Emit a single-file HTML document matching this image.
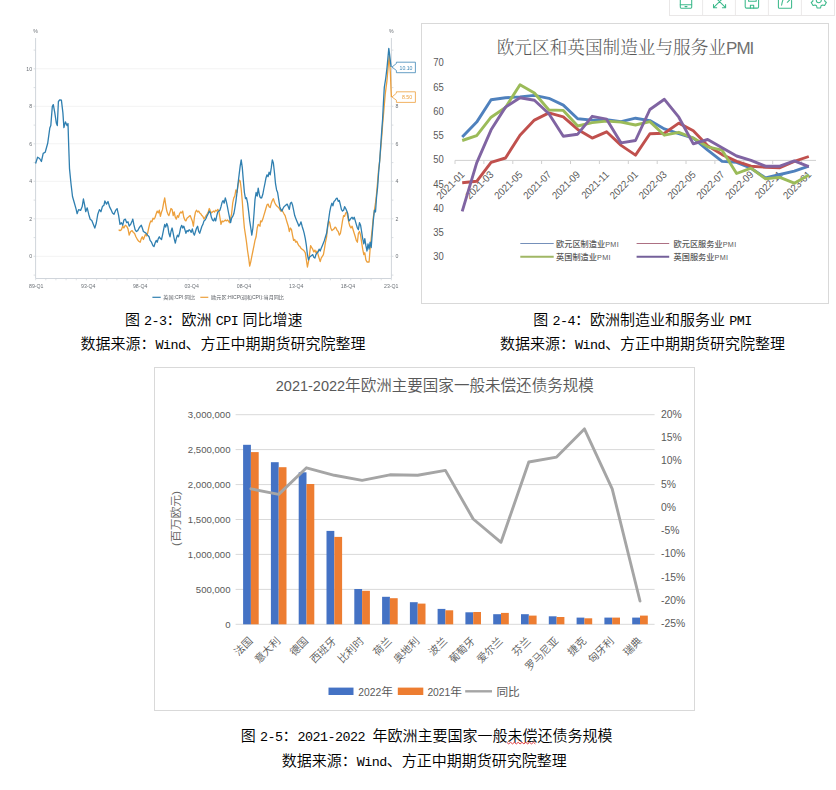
<!DOCTYPE html>
<html lang="zh-CN"><head><meta charset="utf-8"><title>欧洲经济图表</title>
<style>
html,body{margin:0;padding:0;background:#fff}
body{width:836px;height:790px;position:relative;overflow:hidden;font-family:"Liberation Sans","Noto Sans CJK SC",sans-serif}
.box{position:absolute;border:1px solid #d9d9d9;background:#fff;box-sizing:content-box}
.t1{font:5.2px "Liberation Sans","Noto Sans CJK SC",sans-serif;fill:#6b7076}
.t1l{font-size:5.1px;fill:#5c6066}
.t2{font:10.3px "Liberation Sans","Noto Sans CJK SC",sans-serif;fill:#595959}
.t2l{font:8.2px "Liberation Sans","Noto Sans CJK SC",sans-serif;fill:#595959;font-weight:500}
.pm{font-size:7.2px;font-weight:400;letter-spacing:0.4px}
.title2{position:absolute;text-align:center;font:300 17.65px/28px "Liberation Serif","Noto Serif CJK SC",serif;color:#595959;white-space:nowrap}
.title2 .lat{font-family:"Liberation Sans",sans-serif;font-size:17px;letter-spacing:-1px;color:#707070;position:relative;top:-0.4px}
.t3{font:9.6px "Liberation Sans","Noto Sans CJK SC",sans-serif;fill:#595959}
.t3r{font:10.8px "Liberation Sans","Noto Sans CJK SC",sans-serif;fill:#595959}
.t3x{font:350 10.5px "Liberation Sans","Noto Sans CJK SC",sans-serif;fill:#595959}
.dg{font-size:10.3px}
.t3a{font:350 11.8px "Liberation Sans","Noto Sans CJK SC",sans-serif;fill:#666}
.t3l{font:11.7px "Liberation Sans","Noto Sans CJK SC",sans-serif;fill:#595959}
.title3{position:absolute;text-align:center;font:350 15.55px/22px "Liberation Sans","Noto Sans CJK SC",sans-serif;color:#595959;white-space:nowrap}
.cap{position:absolute;text-align:center;font:350 15px/20px "Liberation Mono","Noto Sans CJK SC","WenQuanYi Zen Hei",monospace;color:#000;white-space:nowrap}
.cap .m{font-family:"Liberation Mono",monospace;font-size:13.4px;letter-spacing:-0.54px}
.cap .s{display:inline-block;width:4.2px}
.tb{position:absolute;left:668.7px;top:-2.5px;width:164.6px;height:16.6px;border:1px solid #e9e7e7;background:#fff}
.sq{text-decoration:underline wavy #e03030;text-decoration-thickness:0.8px;text-underline-offset:2px}
</style></head><body>
<svg class="c1" width="420" height="310" viewBox="0 0 420 310" style="position:absolute;left:0;top:0;filter:blur(0.35px)">
<line x1="35.6" x2="391.4" y1="256.3" y2="256.3" stroke="#f3f3f3" stroke-width="1"/>
<line x1="35.6" x2="391.4" y1="218.8" y2="218.8" stroke="#f3f3f3" stroke-width="1"/>
<line x1="35.6" x2="391.4" y1="181.3" y2="181.3" stroke="#f3f3f3" stroke-width="1"/>
<line x1="35.6" x2="391.4" y1="143.8" y2="143.8" stroke="#f3f3f3" stroke-width="1"/>
<line x1="35.6" x2="391.4" y1="106.3" y2="106.3" stroke="#f3f3f3" stroke-width="1"/>
<line x1="35.6" x2="391.4" y1="68.8" y2="68.8" stroke="#f3f3f3" stroke-width="1"/>
<line x1="35.6" x2="35.6" y1="38" y2="278.5" stroke="#d0d5db" stroke-width="1"/>
<line x1="391.4" x2="391.4" y1="38" y2="278.5" stroke="#d0d5db" stroke-width="1"/>
<line x1="35.6" x2="391.4" y1="278.5" y2="278.5" stroke="#d0d5db" stroke-width="1"/>
<line x1="33.6" x2="35.6" y1="275.1" y2="275.1" stroke="#d0d5db" stroke-width="0.8"/>
<line x1="391.4" x2="393.4" y1="275.1" y2="275.1" stroke="#d0d5db" stroke-width="0.8"/>
<line x1="33.6" x2="35.6" y1="256.3" y2="256.3" stroke="#d0d5db" stroke-width="0.8"/>
<line x1="391.4" x2="393.4" y1="256.3" y2="256.3" stroke="#d0d5db" stroke-width="0.8"/>
<line x1="33.6" x2="35.6" y1="237.6" y2="237.6" stroke="#d0d5db" stroke-width="0.8"/>
<line x1="391.4" x2="393.4" y1="237.6" y2="237.6" stroke="#d0d5db" stroke-width="0.8"/>
<line x1="33.6" x2="35.6" y1="218.8" y2="218.8" stroke="#d0d5db" stroke-width="0.8"/>
<line x1="391.4" x2="393.4" y1="218.8" y2="218.8" stroke="#d0d5db" stroke-width="0.8"/>
<line x1="33.6" x2="35.6" y1="200.1" y2="200.1" stroke="#d0d5db" stroke-width="0.8"/>
<line x1="391.4" x2="393.4" y1="200.1" y2="200.1" stroke="#d0d5db" stroke-width="0.8"/>
<line x1="33.6" x2="35.6" y1="181.3" y2="181.3" stroke="#d0d5db" stroke-width="0.8"/>
<line x1="391.4" x2="393.4" y1="181.3" y2="181.3" stroke="#d0d5db" stroke-width="0.8"/>
<line x1="33.6" x2="35.6" y1="162.6" y2="162.6" stroke="#d0d5db" stroke-width="0.8"/>
<line x1="391.4" x2="393.4" y1="162.6" y2="162.6" stroke="#d0d5db" stroke-width="0.8"/>
<line x1="33.6" x2="35.6" y1="143.8" y2="143.8" stroke="#d0d5db" stroke-width="0.8"/>
<line x1="391.4" x2="393.4" y1="143.8" y2="143.8" stroke="#d0d5db" stroke-width="0.8"/>
<line x1="33.6" x2="35.6" y1="125.1" y2="125.1" stroke="#d0d5db" stroke-width="0.8"/>
<line x1="391.4" x2="393.4" y1="125.1" y2="125.1" stroke="#d0d5db" stroke-width="0.8"/>
<line x1="33.6" x2="35.6" y1="106.3" y2="106.3" stroke="#d0d5db" stroke-width="0.8"/>
<line x1="391.4" x2="393.4" y1="106.3" y2="106.3" stroke="#d0d5db" stroke-width="0.8"/>
<line x1="33.6" x2="35.6" y1="87.6" y2="87.6" stroke="#d0d5db" stroke-width="0.8"/>
<line x1="391.4" x2="393.4" y1="87.6" y2="87.6" stroke="#d0d5db" stroke-width="0.8"/>
<line x1="33.6" x2="35.6" y1="68.8" y2="68.8" stroke="#d0d5db" stroke-width="0.8"/>
<line x1="391.4" x2="393.4" y1="68.8" y2="68.8" stroke="#d0d5db" stroke-width="0.8"/>
<line x1="33.6" x2="35.6" y1="50.1" y2="50.1" stroke="#d0d5db" stroke-width="0.8"/>
<line x1="391.4" x2="393.4" y1="50.1" y2="50.1" stroke="#d0d5db" stroke-width="0.8"/>
<line x1="35.6" x2="35.6" y1="278.5" y2="280.3" stroke="#d0d5db" stroke-width="0.7"/>
<line x1="45.8" x2="45.8" y1="278.5" y2="280.3" stroke="#d0d5db" stroke-width="0.7"/>
<line x1="55.9" x2="55.9" y1="278.5" y2="280.3" stroke="#d0d5db" stroke-width="0.7"/>
<line x1="66.1" x2="66.1" y1="278.5" y2="280.3" stroke="#d0d5db" stroke-width="0.7"/>
<line x1="76.3" x2="76.3" y1="278.5" y2="280.3" stroke="#d0d5db" stroke-width="0.7"/>
<line x1="86.4" x2="86.4" y1="278.5" y2="280.3" stroke="#d0d5db" stroke-width="0.7"/>
<line x1="96.6" x2="96.6" y1="278.5" y2="280.3" stroke="#d0d5db" stroke-width="0.7"/>
<line x1="106.8" x2="106.8" y1="278.5" y2="280.3" stroke="#d0d5db" stroke-width="0.7"/>
<line x1="116.9" x2="116.9" y1="278.5" y2="280.3" stroke="#d0d5db" stroke-width="0.7"/>
<line x1="127.1" x2="127.1" y1="278.5" y2="280.3" stroke="#d0d5db" stroke-width="0.7"/>
<line x1="137.3" x2="137.3" y1="278.5" y2="280.3" stroke="#d0d5db" stroke-width="0.7"/>
<line x1="147.4" x2="147.4" y1="278.5" y2="280.3" stroke="#d0d5db" stroke-width="0.7"/>
<line x1="157.6" x2="157.6" y1="278.5" y2="280.3" stroke="#d0d5db" stroke-width="0.7"/>
<line x1="167.8" x2="167.8" y1="278.5" y2="280.3" stroke="#d0d5db" stroke-width="0.7"/>
<line x1="177.9" x2="177.9" y1="278.5" y2="280.3" stroke="#d0d5db" stroke-width="0.7"/>
<line x1="188.1" x2="188.1" y1="278.5" y2="280.3" stroke="#d0d5db" stroke-width="0.7"/>
<line x1="198.3" x2="198.3" y1="278.5" y2="280.3" stroke="#d0d5db" stroke-width="0.7"/>
<line x1="208.4" x2="208.4" y1="278.5" y2="280.3" stroke="#d0d5db" stroke-width="0.7"/>
<line x1="218.6" x2="218.6" y1="278.5" y2="280.3" stroke="#d0d5db" stroke-width="0.7"/>
<line x1="228.7" x2="228.7" y1="278.5" y2="280.3" stroke="#d0d5db" stroke-width="0.7"/>
<line x1="238.9" x2="238.9" y1="278.5" y2="280.3" stroke="#d0d5db" stroke-width="0.7"/>
<line x1="249.1" x2="249.1" y1="278.5" y2="280.3" stroke="#d0d5db" stroke-width="0.7"/>
<line x1="259.2" x2="259.2" y1="278.5" y2="280.3" stroke="#d0d5db" stroke-width="0.7"/>
<line x1="269.4" x2="269.4" y1="278.5" y2="280.3" stroke="#d0d5db" stroke-width="0.7"/>
<line x1="279.6" x2="279.6" y1="278.5" y2="280.3" stroke="#d0d5db" stroke-width="0.7"/>
<line x1="289.7" x2="289.7" y1="278.5" y2="280.3" stroke="#d0d5db" stroke-width="0.7"/>
<line x1="299.9" x2="299.9" y1="278.5" y2="280.3" stroke="#d0d5db" stroke-width="0.7"/>
<line x1="310.1" x2="310.1" y1="278.5" y2="280.3" stroke="#d0d5db" stroke-width="0.7"/>
<line x1="320.2" x2="320.2" y1="278.5" y2="280.3" stroke="#d0d5db" stroke-width="0.7"/>
<line x1="330.4" x2="330.4" y1="278.5" y2="280.3" stroke="#d0d5db" stroke-width="0.7"/>
<line x1="340.6" x2="340.6" y1="278.5" y2="280.3" stroke="#d0d5db" stroke-width="0.7"/>
<line x1="350.7" x2="350.7" y1="278.5" y2="280.3" stroke="#d0d5db" stroke-width="0.7"/>
<line x1="360.9" x2="360.9" y1="278.5" y2="280.3" stroke="#d0d5db" stroke-width="0.7"/>
<line x1="371.1" x2="371.1" y1="278.5" y2="280.3" stroke="#d0d5db" stroke-width="0.7"/>
<line x1="381.2" x2="381.2" y1="278.5" y2="280.3" stroke="#d0d5db" stroke-width="0.7"/>
<line x1="391.4" x2="391.4" y1="278.5" y2="280.3" stroke="#d0d5db" stroke-width="0.7"/>
<text x="36.3" y="288" text-anchor="middle" class="t1">89-Q1</text>
<text x="88.3" y="288" text-anchor="middle" class="t1">93-Q4</text>
<text x="140.2" y="288" text-anchor="middle" class="t1">98-Q4</text>
<text x="191.6" y="288" text-anchor="middle" class="t1">03-Q4</text>
<text x="244.0" y="288" text-anchor="middle" class="t1">08-Q4</text>
<text x="296.3" y="288" text-anchor="middle" class="t1">13-Q4</text>
<text x="348" y="288" text-anchor="middle" class="t1">18-Q4</text>
<text x="391.3" y="288" text-anchor="middle" class="t1">23-Q1</text>
<text x="32.1" y="258.1" text-anchor="end" class="t1">0</text>
<text x="32.1" y="220.6" text-anchor="end" class="t1">2</text>
<text x="32.1" y="183.1" text-anchor="end" class="t1">4</text>
<text x="32.1" y="145.6" text-anchor="end" class="t1">6</text>
<text x="32.1" y="108.1" text-anchor="end" class="t1">8</text>
<text x="32.1" y="70.6" text-anchor="end" class="t1">10</text>
<text x="395.4" y="258.1" text-anchor="start" class="t1">0</text>
<text x="395.4" y="220.6" text-anchor="start" class="t1">2</text>
<text x="395.4" y="183.1" text-anchor="start" class="t1">4</text>
<text x="395.4" y="145.6" text-anchor="start" class="t1">6</text>
<text x="395.4" y="108.1" text-anchor="start" class="t1">8</text>
<text x="35.6" y="32.5" text-anchor="middle" class="t1">%</text>
<text x="391.4" y="32.5" text-anchor="middle" class="t1">%</text>
<path d="M118.6,229.7 L120.0,230.6 L121.4,229.7 L122.7,226.2 L123.9,228.0 L125.3,225.3 L126.7,226.2 L128.0,228.9 L129.2,235.1 L130.6,231.5 L132.1,230.6 L133.3,232.4 L134.5,233.3 L135.9,236.8 L137.4,239.5 L138.8,241.3 L140.2,242.2 L141.3,238.6 L142.3,236.8 L143.4,239.5 L144.5,236.8 L145.5,234.2 L146.6,235.9 L147.6,233.3 L148.7,228.0 L149.8,223.5 L150.8,220.9 L151.9,221.8 L153.0,218.2 L154.0,219.1 L155.1,217.3 L156.2,213.8 L157.2,211.1 L158.3,212.9 L159.3,210.2 L160.4,216.4 L161.5,212.0 L162.5,209.4 L163.6,203.2 L164.7,197.8 L165.7,204.9 L166.8,211.1 L167.8,213.8 L168.9,215.6 L170.0,212.0 L171.0,208.5 L172.1,209.4 L173.2,215.6 L174.2,212.0 L175.3,217.3 L176.3,219.1 L177.4,215.6 L178.5,217.3 L179.5,213.8 L180.6,212.0 L181.7,212.9 L182.7,211.1 L183.8,217.3 L184.9,220.0 L185.9,220.9 L187.0,218.2 L188.1,217.3 L189.1,216.4 L190.2,215.6 L191.2,218.2 L192.3,220.9 L193.4,226.2 L194.4,217.3 L195.5,212.0 L196.6,210.2 L197.6,212.0 L198.7,211.1 L199.7,212.9 L200.8,213.8 L201.9,215.6 L202.9,216.4 L204.0,219.1 L205.1,217.3 L206.1,215.6 L207.2,213.8 L208.2,212.0 L209.3,208.5 L210.4,211.1 L211.4,212.9 L212.5,212.0 L213.6,211.1 L214.6,212.0 L215.7,210.2 L216.8,211.1 L217.8,209.4 L218.9,211.1 L219.9,217.3 L221.0,224.4 L222.1,220.9 L223.1,221.8 L224.2,220.9 L225.3,220.0 L226.3,220.9 L227.4,220.0 L228.4,220.9 L229.5,222.7 L230.6,218.2 L231.6,213.8 L232.7,203.2 L233.8,197.8 L234.8,196.1 L235.9,189.9 L237.0,192.5 L238.0,185.4 L239.1,180.1 L240.2,181.0 L241.2,189.0 L242.3,201.4 L243.3,215.6 L244.4,228.0 L245.5,235.1 L246.5,242.2 L247.6,251.0 L248.7,258.1 L249.7,266.1 L250.8,261.6 L251.8,256.3 L252.9,251.0 L254.0,245.7 L255.0,240.4 L256.1,236.8 L257.2,228.0 L258.2,224.4 L259.3,225.3 L260.0,226.2 L260.6,220.9 L261.7,221.8 L262.8,219.1 L263.8,215.6 L264.9,212.0 L265.9,208.5 L267.0,204.9 L268.1,204.1 L269.1,206.7 L270.2,207.6 L271.3,203.2 L272.3,200.5 L273.4,198.7 L274.5,202.3 L275.5,204.1 L276.6,205.8 L277.6,206.7 L278.7,207.6 L279.8,209.4 L280.8,211.1 L281.9,209.4 L283.0,212.0 L284.0,213.8 L285.1,215.6 L286.1,219.1 L287.2,222.7 L288.3,226.2 L289.3,231.5 L290.4,228.0 L291.5,229.7 L292.5,235.1 L293.6,240.4 L294.7,239.5 L295.7,242.2 L296.8,241.3 L297.9,243.9 L298.9,245.7 L300.0,246.6 L301.0,248.3 L302.1,249.2 L303.2,250.1 L304.2,251.0 L305.3,252.8 L306.4,259.9 L307.4,267.0 L308.5,261.6 L309.5,254.6 L310.6,245.7 L311.7,247.5 L312.7,249.2 L313.8,251.9 L314.9,250.1 L315.9,252.8 L317.0,251.0 L318.1,254.6 L319.1,258.1 L320.2,261.6 L321.2,258.1 L322.3,256.3 L323.4,254.6 L324.4,249.2 L325.5,242.2 L326.6,236.8 L327.6,228.0 L328.7,220.9 L329.7,222.7 L330.8,228.0 L331.9,230.6 L332.9,229.7 L334.0,228.9 L335.1,227.1 L336.1,228.0 L337.2,230.6 L338.2,231.5 L339.3,235.1 L340.4,233.3 L341.4,228.0 L342.5,220.9 L343.6,215.6 L344.6,216.4 L345.7,212.9 L346.8,212.0 L347.8,217.3 L348.9,222.7 L349.9,226.2 L351.0,228.0 L352.1,226.2 L353.1,229.7 L354.2,233.3 L355.3,236.8 L356.3,240.4 L357.4,242.2 L358.4,233.3 L359.5,231.5 L360.6,235.1 L361.6,242.2 L362.7,249.2 L363.8,254.6 L364.8,252.8 L365.9,259.9 L367.0,262.0 L368.0,262.0 L369.1,262.0 L370.1,249.2 L371.2,238.6 L372.3,228.0 L373.3,217.3 L374.4,210.2 L375.5,203.2 L376.5,194.3 L377.6,181.9 L378.6,169.5 L379.7,160.6 L382.0,133.5 L382.6,124.6 L384.0,108.7 L385.2,94.5 L387.0,80.3 L388.2,66.1 L389.3,55.5 L389.8,64.3 L390.4,73.2 L391.1,90.9 L391.4,97.1" fill="none" stroke="#eda03c" stroke-width="1.3" stroke-linejoin="round"/>
<path d="M35.6,163.5 L37.6,157.2 L39.6,158.5 L41.4,161.5 L43.2,153.4 L45.2,152.2 L47.7,143.3 L49.8,128.1 L50.8,125.6 L52.3,106.6 L53.3,104.6 L54.8,112.9 L56.3,123.0 L57.3,125.6 L58.4,101.5 L59.9,99.8 L61.4,100.2 L62.9,112.9 L63.9,127.6 L65.4,121.8 L67.0,125.6 L68.0,123.5 L68.7,145.8 L69.5,168.6 L71.0,183.8 L72.5,196.5 L74.3,202.8 L76.1,209.1 L77.1,213.7 L78.6,209.6 L80.6,210.4 L82.2,206.6 L83.4,199.0 L84.7,205.3 L85.7,211.7 L87.2,207.8 L88.7,214.2 L90.2,219.2 L91.8,220.5 L93.3,224.3 L94.8,228.1 L96.3,223.0 L97.8,214.2 L99.4,209.6 L100.9,211.7 L102.4,206.6 L103.9,205.3 L104.9,201.0 L106.5,204.1 L108.0,201.5 L109.5,206.6 L111.0,209.6 L112.5,212.9 L114.0,214.2 L115.6,210.4 L117.1,208.6 L118.6,215.4 L120.0,224.4 L121.4,222.7 L122.7,225.3 L123.9,220.0 L125.3,219.1 L126.7,222.7 L128.0,221.8 L129.2,226.2 L130.6,224.4 L132.1,220.9 L132.8,219.1 L133.8,224.4 L135.1,229.7 L136.3,231.5 L137.7,230.6 L139.1,228.0 L140.4,226.2 L141.3,225.3 L142.3,228.0 L143.4,231.5 L144.8,232.4 L146.2,233.3 L147.6,235.1 L149.1,236.8 L150.1,240.4 L151.5,242.2 L153.0,245.7 L154.0,246.6 L155.1,243.0 L156.2,240.4 L157.2,242.2 L158.3,238.6 L159.3,236.8 L160.4,238.6 L161.5,239.5 L162.5,235.1 L163.6,229.7 L164.7,224.4 L165.7,227.1 L166.8,223.5 L167.8,226.2 L168.9,233.3 L170.0,236.8 L171.0,231.5 L172.1,228.0 L173.2,233.3 L174.2,238.6 L175.3,243.0 L176.3,238.6 L177.4,235.1 L178.5,236.8 L179.5,233.3 L180.6,228.0 L181.7,225.3 L182.7,228.0 L183.8,226.2 L184.9,229.7 L185.9,233.3 L187.0,230.6 L188.1,231.5 L189.1,229.7 L190.2,230.6 L191.2,232.4 L192.3,228.9 L193.4,233.3 L194.4,235.1 L195.5,231.5 L196.6,228.0 L197.6,226.2 L198.7,231.5 L199.7,233.3 L200.8,229.7 L201.9,226.2 L202.9,224.4 L204.0,220.9 L205.1,220.0 L206.1,218.2 L207.2,215.6 L208.2,213.8 L209.3,211.1 L210.4,212.9 L211.4,217.3 L212.5,220.0 L213.6,220.9 L214.6,218.2 L215.7,220.9 L216.8,215.6 L217.8,212.0 L218.9,211.1 L219.9,210.2 L221.0,206.7 L222.1,202.3 L223.1,200.5 L224.2,203.2 L225.3,197.8 L226.3,201.4 L227.4,206.7 L228.4,212.0 L229.5,217.3 L230.6,222.7 L231.6,218.2 L232.7,216.4 L233.8,213.8 L234.8,208.5 L235.9,201.4 L237.0,192.5 L238.0,183.7 L239.1,174.8 L240.2,165.9 L241.2,159.8 L242.3,167.7 L243.3,180.1 L244.4,192.5 L245.5,198.7 L246.5,197.8 L247.6,203.2 L248.7,212.0 L249.7,220.9 L250.8,228.0 L251.8,235.1 L252.9,228.0 L254.0,213.8 L255.0,199.6 L256.1,192.5 L257.2,196.1 L258.2,188.1 L259.3,194.3 L260.0,197.0 L261.0,198.2 L261.7,197.8 L262.8,194.3 L263.8,189.0 L264.9,183.7 L265.9,178.3 L267.0,174.8 L268.1,176.6 L269.1,172.2 L270.2,174.8 L271.3,167.7 L272.3,159.8 L273.4,163.3 L274.5,173.0 L275.5,183.7 L276.6,189.9 L277.6,192.5 L278.7,199.6 L279.8,206.7 L280.8,209.4 L281.9,211.1 L283.0,208.5 L284.0,206.7 L285.1,205.8 L286.1,204.9 L287.2,204.1 L288.3,206.7 L289.3,209.4 L290.4,203.2 L291.5,202.3 L292.5,204.9 L293.6,210.2 L294.7,215.6 L295.7,218.2 L296.8,220.9 L297.9,223.5 L298.9,226.2 L300.0,224.4 L301.0,221.8 L302.1,226.2 L303.2,229.7 L304.2,233.3 L305.3,238.6 L306.4,245.7 L307.4,254.6 L308.5,259.9 L309.5,257.2 L310.6,256.3 L311.7,255.4 L312.7,254.6 L313.8,257.2 L314.9,258.1 L315.9,254.6 L317.0,252.8 L318.1,251.9 L319.1,249.2 L320.2,251.0 L321.2,248.3 L322.3,245.7 L323.4,243.0 L324.4,240.4 L325.5,236.8 L326.6,233.3 L327.6,226.2 L328.7,219.1 L329.7,212.0 L330.8,206.7 L331.9,203.2 L332.9,205.8 L334.0,201.4 L335.1,200.5 L336.1,198.7 L337.2,198.2 L338.2,201.4 L339.3,200.5 L340.4,204.9 L341.4,209.4 L342.5,211.1 L343.6,210.2 L344.6,206.7 L345.7,208.5 L346.8,211.1 L347.8,213.8 L348.9,220.9 L349.9,220.0 L351.0,218.2 L352.1,217.3 L353.1,219.1 L354.2,217.3 L355.3,220.9 L356.3,224.4 L357.4,228.0 L358.4,229.7 L359.5,222.7 L360.6,225.3 L361.6,231.5 L362.7,238.6 L363.8,243.9 L364.8,238.6 L365.9,245.7 L367.0,251.0 L368.0,243.9 L369.1,249.2 L370.1,242.2 L371.2,247.5 L372.3,233.3 L373.3,220.9 L374.4,210.2 L375.5,212.0 L376.5,197.8 L377.6,187.2 L378.6,173.0 L379.7,160.6 L381.8,129.9 L382.6,119.3 L383.4,103.3 L384.3,87.4 L385.7,78.5 L387.0,67.9 L387.9,58.1 L388.8,48.4 L389.5,53.7 L390.0,58.1 L391.1,67.0" fill="none" stroke="#2f7fb0" stroke-width="1.3" stroke-linejoin="round"/>
<path d="M392,67 L396.4,63.5 L396.4,62.2 L415.4,62.2 L415.4,72.7 L396.4,72.7 L396.4,70.5 Z" fill="#fff" stroke="#3f87b5" stroke-width="0.8"/>
<text x="406" y="69.6" text-anchor="middle" class="t1" style="fill:#3f87b5">10.10</text>
<path d="M392,97 L396.4,93.2 L396.4,91.8 L415.4,91.8 L415.4,102.4 L396.4,102.4 L396.4,100.2 Z" fill="#fff" stroke="#eda03c" stroke-width="0.8"/>
<text x="407" y="99.3" text-anchor="middle" class="t1" style="fill:#eda03c">8.50</text>
<line x1="152.4" x2="160.7" y1="297.3" y2="297.3" stroke="#2f7fb0" stroke-width="1.2"/>
<text x="163.3" y="299.1" class="t1 t1l">英国:CPI:同比</text>
<line x1="200.3" x2="208.3" y1="297.3" y2="297.3" stroke="#eda03c" stroke-width="1.2"/>
<text x="211.2" y="299.1" class="t1 t1l">欧元区:HICP(调和CPI):当月同比</text>
</svg>
<div class="box" style="left:421px;top:23px;width:406px;height:279px"></div>
<svg width="416" height="290" viewBox="420 20 416 290" style="position:absolute;left:420px;top:20px">
<line x1="455.0" x2="816.0" y1="160.4" y2="160.4" stroke="#d0d0d0" stroke-width="1"/>
<line x1="455.0" x2="455.0" y1="160.4" y2="164" stroke="#d0d0d0" stroke-width="1"/>
<line x1="483.9" x2="483.9" y1="160.4" y2="164" stroke="#d0d0d0" stroke-width="1"/>
<line x1="512.8" x2="512.8" y1="160.4" y2="164" stroke="#d0d0d0" stroke-width="1"/>
<line x1="541.6" x2="541.6" y1="160.4" y2="164" stroke="#d0d0d0" stroke-width="1"/>
<line x1="570.5" x2="570.5" y1="160.4" y2="164" stroke="#d0d0d0" stroke-width="1"/>
<line x1="599.4" x2="599.4" y1="160.4" y2="164" stroke="#d0d0d0" stroke-width="1"/>
<line x1="628.3" x2="628.3" y1="160.4" y2="164" stroke="#d0d0d0" stroke-width="1"/>
<line x1="657.2" x2="657.2" y1="160.4" y2="164" stroke="#d0d0d0" stroke-width="1"/>
<line x1="686.0" x2="686.0" y1="160.4" y2="164" stroke="#d0d0d0" stroke-width="1"/>
<line x1="714.9" x2="714.9" y1="160.4" y2="164" stroke="#d0d0d0" stroke-width="1"/>
<line x1="743.8" x2="743.8" y1="160.4" y2="164" stroke="#d0d0d0" stroke-width="1"/>
<line x1="772.7" x2="772.7" y1="160.4" y2="164" stroke="#d0d0d0" stroke-width="1"/>
<line x1="801.6" x2="801.6" y1="160.4" y2="164" stroke="#d0d0d0" stroke-width="1"/>
<text transform="translate(443.8,260.3) scale(0.92,1)" text-anchor="end" class="t2">30</text>
<text transform="translate(443.8,236.1) scale(0.92,1)" text-anchor="end" class="t2">35</text>
<text transform="translate(443.8,211.8) scale(0.92,1)" text-anchor="end" class="t2">40</text>
<text transform="translate(443.8,187.6) scale(0.92,1)" text-anchor="end" class="t2">45</text>
<text transform="translate(443.8,163.3) scale(0.92,1)" text-anchor="end" class="t2">50</text>
<text transform="translate(443.8,139.1) scale(0.92,1)" text-anchor="end" class="t2">55</text>
<text transform="translate(443.8,114.8) scale(0.92,1)" text-anchor="end" class="t2">60</text>
<text transform="translate(443.8,90.6) scale(0.92,1)" text-anchor="end" class="t2">65</text>
<text transform="translate(443.8,66.3) scale(0.92,1)" text-anchor="end" class="t2">70</text>
<text transform="translate(465.3,175.2) rotate(-45) scale(0.92,1)" text-anchor="end" class="t2">2021-01</text>
<text transform="translate(494.2,175.2) rotate(-45) scale(0.92,1)" text-anchor="end" class="t2">2021-03</text>
<text transform="translate(523.1,175.2) rotate(-45) scale(0.92,1)" text-anchor="end" class="t2">2021-05</text>
<text transform="translate(552.0,175.2) rotate(-45) scale(0.92,1)" text-anchor="end" class="t2">2021-07</text>
<text transform="translate(580.8,175.2) rotate(-45) scale(0.92,1)" text-anchor="end" class="t2">2021-09</text>
<text transform="translate(609.7,175.2) rotate(-45) scale(0.92,1)" text-anchor="end" class="t2">2021-11</text>
<text transform="translate(638.6,175.2) rotate(-45) scale(0.92,1)" text-anchor="end" class="t2">2022-01</text>
<text transform="translate(667.5,175.2) rotate(-45) scale(0.92,1)" text-anchor="end" class="t2">2022-03</text>
<text transform="translate(696.4,175.2) rotate(-45) scale(0.92,1)" text-anchor="end" class="t2">2022-05</text>
<text transform="translate(725.2,175.2) rotate(-45) scale(0.92,1)" text-anchor="end" class="t2">2022-07</text>
<text transform="translate(754.1,175.2) rotate(-45) scale(0.92,1)" text-anchor="end" class="t2">2022-09</text>
<text transform="translate(783.0,175.2) rotate(-45) scale(0.92,1)" text-anchor="end" class="t2">2022-11</text>
<text transform="translate(811.9,175.2) rotate(-45) scale(0.92,1)" text-anchor="end" class="t2">2023-01</text>
<path d="M462.2,137.1 L476.7,122.1 L491.1,99.8 L505.5,97.8 L520.0,96.9 L534.4,95.4 L548.9,98.3 L563.3,105.1 L577.7,118.7 L592.2,120.1 L606.6,119.7 L621.1,121.6 L635.5,118.2 L649.9,120.6 L664.4,128.9 L678.8,133.7 L693.3,138.1 L707.7,150.2 L722.1,161.4 L736.6,162.3 L751.0,168.2 L765.5,177.9 L779.9,174.5 L794.3,171.1 L808.8,166.2" fill="none" stroke="#4f81bd" stroke-width="2.9" stroke-linejoin="round" stroke-linecap="butt"/>
<path d="M462.2,182.7 L476.7,181.3 L491.1,162.3 L505.5,158.0 L520.0,135.2 L534.4,120.1 L548.9,112.9 L563.3,116.8 L577.7,129.4 L592.2,138.1 L606.6,131.8 L621.1,145.4 L635.5,155.1 L649.9,133.7 L664.4,133.2 L678.8,123.1 L693.3,130.8 L707.7,145.8 L722.1,154.6 L736.6,161.4 L751.0,166.2 L765.5,167.2 L779.9,167.7 L794.3,161.4 L808.8,156.5" fill="none" stroke="#c0504d" stroke-width="2.9" stroke-linejoin="round" stroke-linecap="butt"/>
<path d="M462.2,140.5 L476.7,135.7 L491.1,117.2 L505.5,107.5 L520.0,84.7 L534.4,93.0 L548.9,110.0 L563.3,110.4 L577.7,126.0 L592.2,122.6 L606.6,121.1 L621.1,122.1 L635.5,125.0 L649.9,121.6 L664.4,135.2 L678.8,132.3 L693.3,138.1 L707.7,146.8 L722.1,150.2 L736.6,173.5 L751.0,168.2 L765.5,178.8 L779.9,177.4 L794.3,183.2 L808.8,175.0" fill="none" stroke="#9bbb59" stroke-width="2.9" stroke-linejoin="round" stroke-linecap="butt"/>
<path d="M462.2,211.3 L476.7,162.8 L491.1,129.8 L505.5,107.1 L520.0,97.8 L534.4,100.3 L548.9,113.8 L563.3,136.2 L577.7,134.2 L592.2,116.3 L606.6,119.2 L621.1,142.9 L635.5,140.5 L649.9,109.5 L664.4,99.3 L678.8,117.2 L693.3,143.9 L707.7,139.5 L722.1,147.8 L736.6,156.0 L751.0,160.4 L765.5,166.2 L779.9,166.2 L794.3,160.9 L808.8,166.7" fill="none" stroke="#8064a2" stroke-width="2.9" stroke-linejoin="round" stroke-linecap="butt"/>
<line x1="520.3" x2="553.7" y1="243.5" y2="243.5" stroke="#7590ba" stroke-width="1.1"/>
<text x="556" y="246.5" class="t2l">欧元区制造业<tspan class="pm">PMI</tspan></text>
<line x1="636.6" x2="669.2" y1="243.5" y2="243.5" stroke="#ad7083" stroke-width="1.1"/>
<text x="673.5" y="246.5" class="t2l">欧元区服务业<tspan class="pm">PMI</tspan></text>
<line x1="520.3" x2="553.7" y1="256.8" y2="256.8" stroke="#a0b765" stroke-width="2"/>
<text x="556" y="259.8" class="t2l">英国制造业<tspan class="pm">PMI</tspan></text>
<line x1="636.6" x2="669.2" y1="256.8" y2="256.8" stroke="#74609a" stroke-width="2.1"/>
<text x="673.5" y="259.8" class="t2l">英国服务业<tspan class="pm">PMI</tspan></text>
</svg>
<div class="title2" style="left:421.5px;top:34px;width:407px">欧元区和英国制造业与服务业<span class="lat">PMI</span></div>
<div class="tb"></div>
<svg width="168" height="17" viewBox="668 0 168 17" style="position:absolute;left:668px;top:0">
<line x1="702.6" x2="702.6" y1="0" y2="15.3" stroke="#ebe9e9" stroke-width="1"/>
<line x1="735.4" x2="735.4" y1="0" y2="15.3" stroke="#ebe9e9" stroke-width="1"/>
<line x1="768.4" x2="768.4" y1="0" y2="15.3" stroke="#ebe9e9" stroke-width="1"/>
<line x1="801.4" x2="801.4" y1="0" y2="15.3" stroke="#ebe9e9" stroke-width="1"/>
<rect x="680.3" y="-7.8" width="11.4" height="16" rx="0.9" fill="none" stroke="#3cb98b" stroke-width="1.05" stroke-linecap="round" stroke-linejoin="round"/>
<line x1="680.3" x2="691.7" y1="4.7" y2="4.7" fill="none" stroke="#3cb98b" stroke-width="1.05" stroke-linecap="round" stroke-linejoin="round"/>
<line x1="685" x2="687" y1="6.6" y2="6.6" fill="none" stroke="#3cb98b" stroke-width="1.05" stroke-linecap="round" stroke-linejoin="round"/>
<path d="M713.5,7.7 L725.6,-4.4 M725.6,7.7 L713.5,-4.4 M713.5,4.5 L713.5,7.7 L716.7,7.7 M725.6,4.5 L725.6,7.7 L722.4,7.7" fill="none" stroke="#3cb98b" stroke-width="1.05" stroke-linecap="round" stroke-linejoin="round"/>
<path d="M745.2,-6 L745.2,6.7 Q745.2,8.1 746.6,8.1 L757.2,8.1 Q758.6,8.1 758.6,6.7 L758.6,-6" fill="none" stroke="#3cb98b" stroke-width="1.05" stroke-linecap="round" stroke-linejoin="round"/>
<path d="M750.4,8.1 L750.4,5.3 L753.7,5.3 L753.7,8.1" fill="none" stroke="#3cb98b" stroke-width="1.05" stroke-linecap="round" stroke-linejoin="round"/>
<path d="M748.6,-6 L748.6,1.3 L756.2,1.3 L756.2,-6" fill="none" stroke="#3cb98b" stroke-width="1.05" stroke-linecap="round" stroke-linejoin="round"/>
<path d="M778.4,-6 L778.4,7.2 Q778.4,8.3 779.5,8.3 L790.5,8.3 Q791.6,8.3 791.6,7.2 L791.6,0.5" fill="none" stroke="#3cb98b" stroke-width="1.05" stroke-linecap="round" stroke-linejoin="round"/>
<path d="M781.6,5.3 Q782.2,0.5 784.2,-2.5" fill="none" stroke="#3cb98b" stroke-width="1.05" stroke-linecap="round" stroke-linejoin="round"/>
<path d="M787.3,2.3 L790.2,-0.6" fill="none" stroke="#3cb98b" stroke-width="1.05" stroke-linecap="round" stroke-linejoin="round"/>
<path d="M821.05,5.76 L820.58,7.90 L817.02,7.90 L816.55,5.76 L815.11,4.93 L813.02,5.59 L811.25,2.51 L812.86,1.04 L812.86,-0.64 L811.25,-2.11 L813.02,-5.19 L815.11,-4.53 L816.55,-5.36 L817.02,-7.50 L820.58,-7.50 L821.05,-5.36 L822.49,-4.53 L824.58,-5.19 L826.35,-2.11 L824.74,-0.64 L824.74,1.04 L826.35,2.51 L824.58,5.59 L822.49,4.93 Z" fill="none" stroke="#3cb98b" stroke-width="1.05" stroke-linecap="round" stroke-linejoin="round"/>
<circle cx="818.8" cy="0.2" r="2.5" fill="none" stroke="#3cb98b" stroke-width="1.05" stroke-linecap="round" stroke-linejoin="round"/>
</svg>
<div class="cap" style="left:1.2px;top:312px;width:425px">图<span class="s"> </span><span class="m">2-3</span>：欧洲<span class="s"> </span><span class="m">CPI</span><span class="s"> </span>同比增速</div>
<div class="cap" style="left:0.5px;top:335.5px;width:445px">数据来源：<span class="m">Wind</span>、方正中期期货研究院整理</div>
<div class="cap" style="left:442.5px;top:312px;width:400px">图<span class="s"> </span><span class="m">2-4</span>：欧洲制造业和服务业<span class="s"> </span><span class="m">PMI</span></div>
<div class="cap" style="left:442.5px;top:335.5px;width:400px">数据来源：<span class="m">Wind</span>、方正中期期货研究院整理</div>
<div class="box" style="left:154px;top:367px;width:539px;height:342px"></div>
<svg width="546" height="350" viewBox="152 365 546 350" style="position:absolute;left:152px;top:365px">
<line x1="235.6" x2="654.6" y1="624.3" y2="624.3" stroke="#d9d9d9" stroke-width="1"/>
<text x="230.5" y="627.8" text-anchor="end" class="t3">0</text>
<line x1="235.6" x2="654.6" y1="589.4" y2="589.4" stroke="#d9d9d9" stroke-width="1"/>
<text x="230.5" y="592.9" text-anchor="end" class="t3">500,000</text>
<line x1="235.6" x2="654.6" y1="554.4" y2="554.4" stroke="#d9d9d9" stroke-width="1"/>
<text x="230.5" y="557.9" text-anchor="end" class="t3">1,000,000</text>
<line x1="235.6" x2="654.6" y1="519.5" y2="519.5" stroke="#d9d9d9" stroke-width="1"/>
<text x="230.5" y="523.0" text-anchor="end" class="t3">1,500,000</text>
<line x1="235.6" x2="654.6" y1="484.6" y2="484.6" stroke="#d9d9d9" stroke-width="1"/>
<text x="230.5" y="488.1" text-anchor="end" class="t3">2,000,000</text>
<line x1="235.6" x2="654.6" y1="449.6" y2="449.6" stroke="#d9d9d9" stroke-width="1"/>
<text x="230.5" y="453.1" text-anchor="end" class="t3">2,500,000</text>
<line x1="235.6" x2="654.6" y1="414.7" y2="414.7" stroke="#d9d9d9" stroke-width="1"/>
<text x="230.5" y="418.2" text-anchor="end" class="t3">3,000,000</text>
<text transform="translate(661,417.7) scale(0.96,1)" class="t3r">20%</text>
<text transform="translate(661,441.0) scale(0.96,1)" class="t3r">15%</text>
<text transform="translate(661,464.3) scale(0.96,1)" class="t3r">10%</text>
<text transform="translate(661,487.6) scale(0.96,1)" class="t3r">5%</text>
<text transform="translate(661,510.9) scale(0.96,1)" class="t3r">0%</text>
<text transform="translate(661,534.1) scale(0.96,1)" class="t3r">-5%</text>
<text transform="translate(661,557.4) scale(0.96,1)" class="t3r">-10%</text>
<text transform="translate(661,580.7) scale(0.96,1)" class="t3r">-15%</text>
<text transform="translate(661,604.0) scale(0.96,1)" class="t3r">-20%</text>
<text transform="translate(661,627.3) scale(0.96,1)" class="t3r">-25%</text>
<rect x="243.1" y="444.8" width="7.8" height="179.5" fill="#4472c4"/>
<rect x="250.9" y="452.1" width="7.8" height="172.2" fill="#ed7d31"/>
<text transform="translate(253.4,641.6) rotate(-45)" text-anchor="end" class="t3x">法国</text>
<rect x="270.9" y="462.2" width="7.8" height="162.1" fill="#4472c4"/>
<rect x="278.7" y="467.2" width="7.8" height="157.1" fill="#ed7d31"/>
<text transform="translate(281.2,641.6) rotate(-45)" text-anchor="end" class="t3x">意大利</text>
<rect x="298.7" y="472.3" width="7.8" height="152.0" fill="#4472c4"/>
<rect x="306.5" y="484.0" width="7.8" height="140.3" fill="#ed7d31"/>
<text transform="translate(309.0,641.6) rotate(-45)" text-anchor="end" class="t3x">德国</text>
<rect x="326.5" y="530.9" width="7.8" height="93.4" fill="#4472c4"/>
<rect x="334.3" y="536.9" width="7.8" height="87.4" fill="#ed7d31"/>
<text transform="translate(336.8,641.6) rotate(-45)" text-anchor="end" class="t3x">西班牙</text>
<rect x="354.3" y="589.0" width="7.8" height="35.3" fill="#4472c4"/>
<rect x="362.1" y="590.8" width="7.8" height="33.5" fill="#ed7d31"/>
<text transform="translate(364.6,641.6) rotate(-45)" text-anchor="end" class="t3x">比利时</text>
<rect x="382.1" y="596.8" width="7.8" height="27.5" fill="#4472c4"/>
<rect x="389.9" y="598.2" width="7.8" height="26.1" fill="#ed7d31"/>
<text transform="translate(392.4,641.6) rotate(-45)" text-anchor="end" class="t3x">荷兰</text>
<rect x="409.9" y="602.2" width="7.8" height="22.1" fill="#4472c4"/>
<rect x="417.7" y="603.6" width="7.8" height="20.7" fill="#ed7d31"/>
<text transform="translate(420.2,641.6) rotate(-45)" text-anchor="end" class="t3x">奥地利</text>
<rect x="437.6" y="608.9" width="7.8" height="15.4" fill="#4472c4"/>
<rect x="445.4" y="610.3" width="7.8" height="14.0" fill="#ed7d31"/>
<text transform="translate(447.9,641.6) rotate(-45)" text-anchor="end" class="t3x">波兰</text>
<rect x="465.4" y="612.3" width="7.8" height="12.0" fill="#4472c4"/>
<rect x="473.2" y="612.0" width="7.8" height="12.3" fill="#ed7d31"/>
<text transform="translate(475.7,641.6) rotate(-45)" text-anchor="end" class="t3x">葡萄牙</text>
<rect x="493.2" y="614.2" width="7.8" height="10.1" fill="#4472c4"/>
<rect x="501.0" y="612.9" width="7.8" height="11.4" fill="#ed7d31"/>
<text transform="translate(503.5,641.6) rotate(-45)" text-anchor="end" class="t3x">爱尔兰</text>
<rect x="521.0" y="614.2" width="7.8" height="10.1" fill="#4472c4"/>
<rect x="528.8" y="615.6" width="7.8" height="8.7" fill="#ed7d31"/>
<text transform="translate(531.3,641.6) rotate(-45)" text-anchor="end" class="t3x">芬兰</text>
<rect x="548.8" y="616.3" width="7.8" height="8.0" fill="#4472c4"/>
<rect x="556.6" y="617.0" width="7.8" height="7.3" fill="#ed7d31"/>
<text transform="translate(559.1,641.6) rotate(-45)" text-anchor="end" class="t3x">罗马尼亚</text>
<rect x="576.6" y="617.6" width="7.8" height="6.7" fill="#4472c4"/>
<rect x="584.4" y="618.3" width="7.8" height="6.0" fill="#ed7d31"/>
<text transform="translate(586.9,641.6) rotate(-45)" text-anchor="end" class="t3x">捷克</text>
<rect x="604.4" y="617.6" width="7.8" height="6.7" fill="#4472c4"/>
<rect x="612.2" y="617.6" width="7.8" height="6.7" fill="#ed7d31"/>
<text transform="translate(614.7,641.6) rotate(-45)" text-anchor="end" class="t3x">匈牙利</text>
<rect x="632.2" y="617.6" width="7.8" height="6.7" fill="#4472c4"/>
<rect x="640.0" y="615.6" width="7.8" height="8.7" fill="#ed7d31"/>
<text transform="translate(642.5,641.6) rotate(-45)" text-anchor="end" class="t3x">瑞典</text>
<path d="M250.9,488.8 L278.7,494.4 L306.5,467.8 L334.3,475.3 L362.1,480.4 L389.9,474.8 L417.7,475.3 L445.4,470.4 L473.2,519.0 L501.0,542.3 L528.8,462.0 L556.6,457.1 L584.4,428.9 L612.2,488.8 L640.0,601.0" fill="none" stroke="#a5a5a5" stroke-width="2.9" stroke-linejoin="round" stroke-linecap="round"/>
<text transform="translate(179.8,518.5) rotate(-90)" text-anchor="middle" class="t3a">(百万欧元)</text>
<rect x="328.5" y="687.6" width="25" height="7.4" fill="#4472c4"/>
<text x="358.3" y="695.6" class="t3l"><tspan class="dg">2022</tspan>年</text>
<rect x="397.8" y="687.6" width="25.5" height="7.4" fill="#ed7d31"/>
<text x="427.4" y="695.6" class="t3l"><tspan class="dg">2021</tspan>年</text>
<line x1="465.2" x2="492" y1="691.3" y2="691.3" stroke="#a5a5a5" stroke-width="2.4"/>
<text x="496.4" y="695.6" class="t3l">同比</text>
</svg>
<div class="title3" style="left:164.3px;top:375px;width:541px"><span style="font-size:14.5px">2021-2022</span>年欧洲主要国家一般未偿还债务规模</div>
<div class="cap" style="left:126.6px;top:728px;width:600px">图<span class="s"> </span><span class="m">2-5</span>：<span class="m">2021-2022</span><span class="s" style="width:7.5px"> </span>年欧洲主要国家一般未偿还债务规模</div>
<div class="cap" style="left:124.3px;top:753px;width:600px">数据来源：<span class="m">Wind</span>、方正中期期货研究院整理</div>
<svg width="40" height="6" viewBox="502 740 40 6" style="position:absolute;left:502px;top:740px"><path d="M506.8,742.3 L508.7,743.9 L510.6,742.3 L512.5,743.9 L514.4,742.3 L516.3,743.9 L518.2,742.3 L520.1,743.9 L522.0,742.3 L523.9,743.9 L525.8,742.3 L527.7,743.9 L529.6,742.3 L531.5,743.9 L533.4,742.3 L535.3,743.9" fill="none" stroke="#e0393e" stroke-width="1" stroke-linejoin="round"/></svg>
</body></html>
